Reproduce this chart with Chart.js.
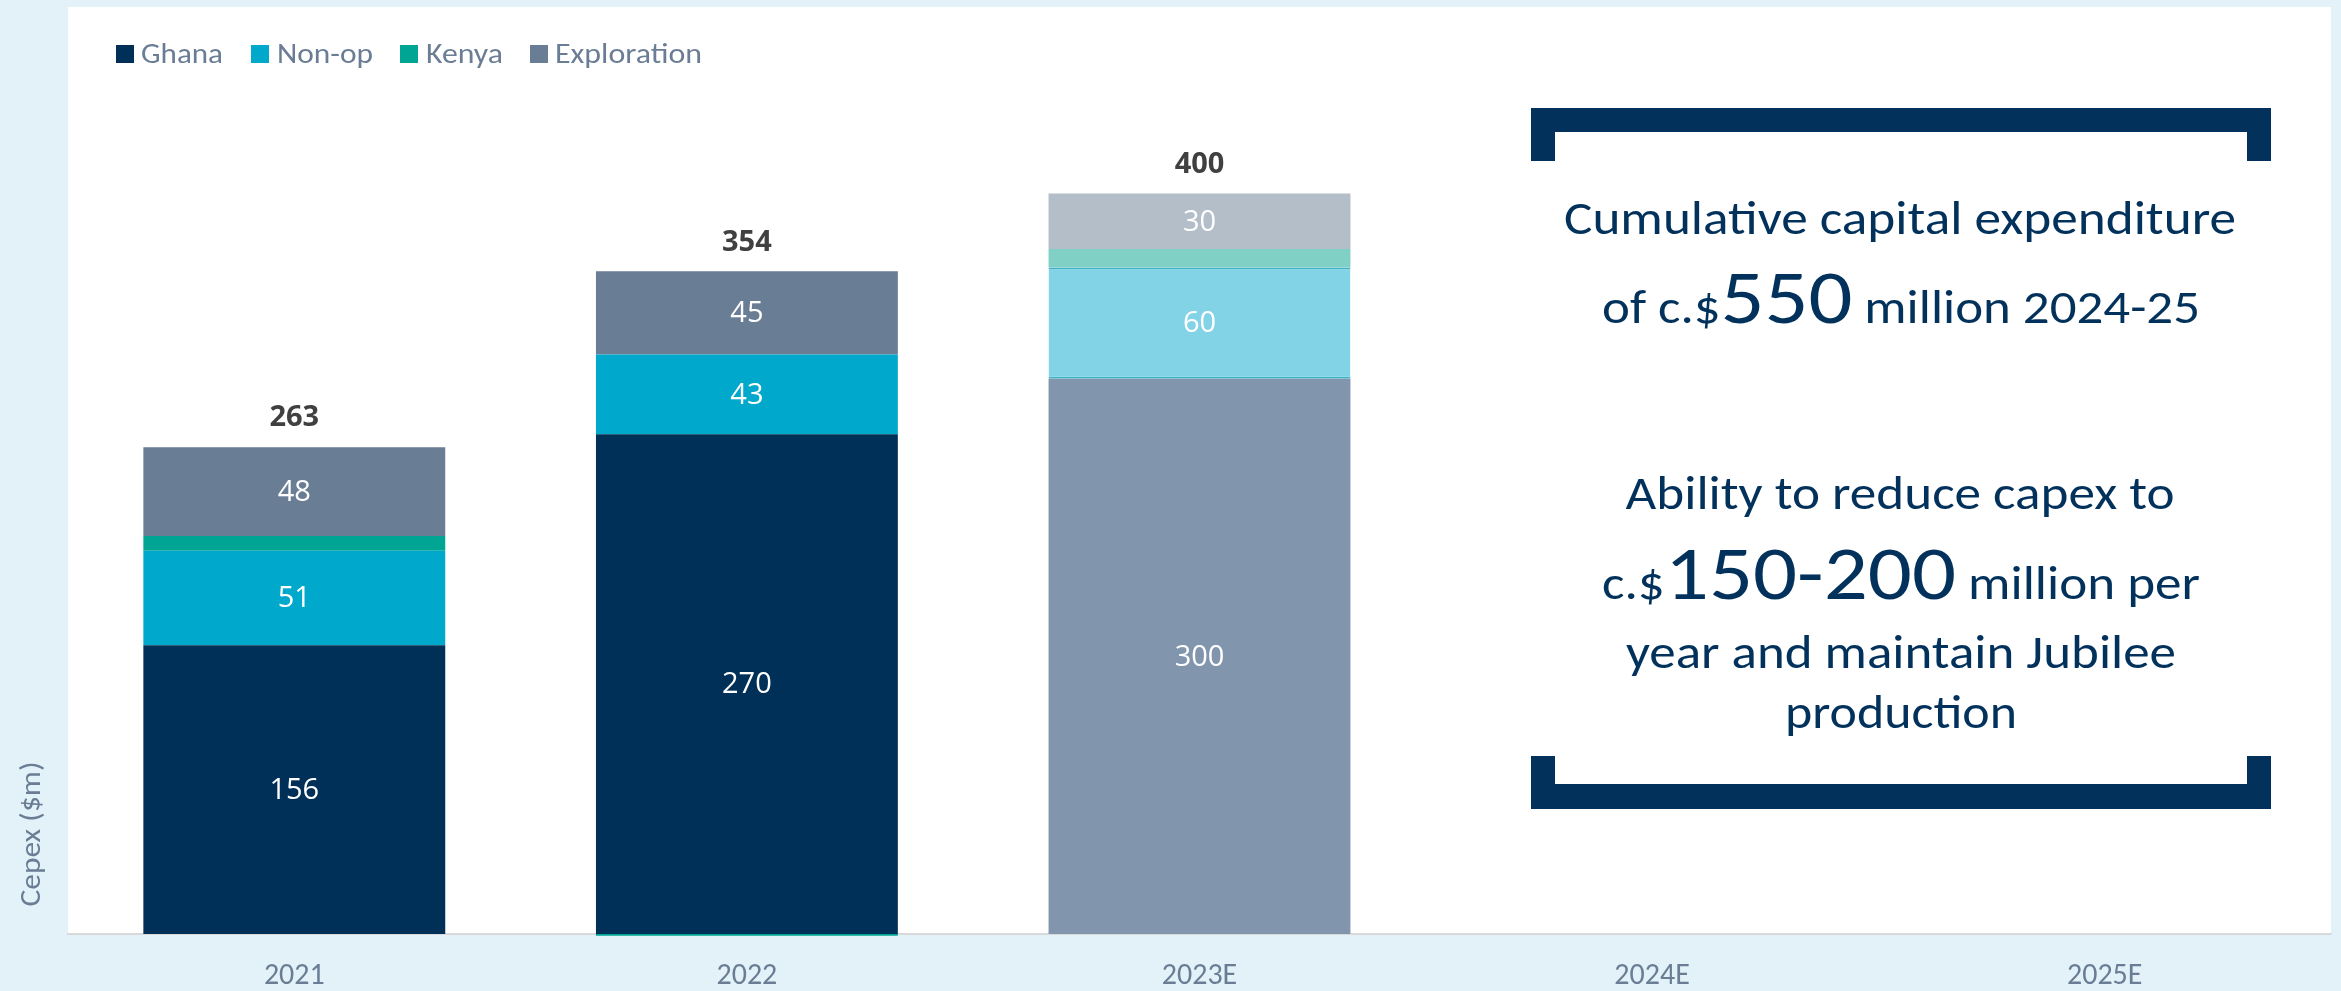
<!DOCTYPE html>
<html>
<head>
<meta charset="utf-8">
<script src="https://cdn.jsdelivr.net/npm/chart.js@4.4.1/dist/chart.umd.min.js"></script>
<style>
  html, body { margin: 0; padding: 0; background: #e3f2f8; }
  #wrap { position: relative; width: 2341px; height: 991px; overflow: hidden; background: #e3f2f8; }
  #panel { position: absolute; left: 68px; top: 7px; width: 2263px; height: 927px; background: #ffffff; }
  #c { position: absolute; left: 0; top: 0; }
  #ov { position: absolute; left: 0; top: 0; pointer-events: none; }
  .nf { font-family: Carlito, 'Liberation Sans Narrow', 'Open Sans', sans-serif; }
</style>
</head>
<body>
<div id="wrap">
  <div id="panel"></div>
  <canvas id="c" width="2341" height="991"></canvas>
  <svg id="ov" width="2341" height="991" xmlns="http://www.w3.org/2000/svg">
    <!-- legend -->
    <g class="nf" font-size="29" fill="#6a7d95">
      <rect x="116" y="45" width="18" height="18" fill="#003057"/>
      <text x="141" y="63" textLength="82" lengthAdjust="spacingAndGlyphs">Ghana</text>
      <rect x="251" y="45" width="18" height="18" fill="#00a8cc"/>
      <text x="277" y="63" textLength="96" lengthAdjust="spacingAndGlyphs">Non-op</text>
      <rect x="400" y="45" width="18" height="18" fill="#00a693"/>
      <text x="426" y="63" textLength="77" lengthAdjust="spacingAndGlyphs">Kenya</text>
      <rect x="530" y="45" width="18" height="18" fill="#697d95"/>
      <text x="555" y="63" textLength="147" lengthAdjust="spacingAndGlyphs">Exploration</text>
    </g>
    <!-- y axis title -->
    <text class="nf" font-size="29" fill="#6a7d95" text-anchor="middle" transform="translate(40,834) rotate(-90)" textLength="145" lengthAdjust="spacingAndGlyphs">Cepex ($m)</text>
    <!-- brackets -->
    <path d="M1531 108 H2271 V161 H2247 V132 H1555 V161 H1531 Z" fill="#02325b"/>
    <path d="M1531 756 H1555 V784 H2247 V756 H2271 V809 H1531 Z" fill="#02325b"/>
    <!-- annotation text -->
    <g class="nf" fill="#02325b" font-size="47" text-anchor="middle">
      <text x="1900" y="234" textLength="672" lengthAdjust="spacingAndGlyphs">Cumulative capital expenditure</text>
      <text x="1901" y="323" textLength="598" lengthAdjust="spacingAndGlyphs">of c.$<tspan font-size="77">550</tspan> million 2024-25</text>
      <text x="1900" y="509" textLength="549" lengthAdjust="spacingAndGlyphs">Ability to reduce capex to</text>
      <text x="1901" y="599" textLength="598" lengthAdjust="spacingAndGlyphs">c.$<tspan font-size="77">150-200</tspan>  million per</text>
      <text x="1901" y="668" textLength="550" lengthAdjust="spacingAndGlyphs">year and maintain Jubilee</text>
      <text x="1901" y="728" textLength="232" lengthAdjust="spacingAndGlyphs">production</text>
    </g>
  </svg>
</div>
<script>
// ---- data ----
const categories = ['2021', '2022', '2023E', '2024E', '2025E'];
const ghana = [156, 270, 300, null, null];
const nonOp = [51, 43, 60, null, null];
const kenya = [8, -1, 10, null, null];
const exploration = [48, 45, 30, null, null];
const totals = [263, 354, 400, null, null];
const seriesNames = ['Ghana', 'Non-op', 'Kenya', 'Exploration'];

// ---- styles ----
const NARROW = "Carlito, 'Liberation Sans Narrow', 'Open Sans', sans-serif";
const colGhana = ['#003057', '#003057', '#8196ad', '#003057', '#003057'];
const colNonOp = ['#00a8cc', '#00a8cc', '#83d3e6', '#00a8cc', '#00a8cc'];
const colKenya = ['#00a693', '#00a693', '#80d0c6', '#00a693', '#00a693'];
const colExpl = ['#697d95', '#697d95', '#b4bec9', '#697d95', '#697d95'];

const labelPlugin = {
  id: 'segLabels',
  afterDatasetsDraw(chart) {
    const ctx = chart.ctx;
    ctx.save();
    ctx.textAlign = 'center';
    ctx.textBaseline = 'middle';
    ctx.fillStyle = '#ffffff';
    ctx.font = "29px 'Open Sans', sans-serif";
    chart.data.datasets.forEach((ds, di) => {
      if (ds.label === 'Kenya') return;
      const meta = chart.getDatasetMeta(di);
      meta.data.forEach((el, i) => {
        const v = ds.data[i];
        if (v === null || v === undefined) return;
        const p = el.getProps(['x', 'y', 'base'], true);
        ctx.fillText(String(v), p.x, (p.y + p.base) / 2 + 1);
      });
    });
    // totals above the stacks
    ctx.font = "bold 29px 'Open Sans', sans-serif";
    ctx.fillStyle = '#404040';
    const top = chart.getDatasetMeta(3);
    totals.forEach((t, i) => {
      if (t === null) return;
      const p = top.data[i].getProps(['x', 'y'], true);
      ctx.fillText(String(t), p.x, p.y - 29);
    });
    ctx.restore();
  }
};

new Chart(document.getElementById('c'), {
  type: 'bar',
  data: {
    labels: categories,
    datasets: [
      { label: seriesNames[0], data: ghana, backgroundColor: colGhana },
      { label: seriesNames[1], data: nonOp, backgroundColor: colNonOp,
        borderColor: '#3fb1c9',
        borderWidth: (c) => c.dataIndex === 2 ? { top: 2, bottom: 2, left: 0, right: 0 } : 0,
        borderSkipped: false },
      { label: seriesNames[2], data: kenya, backgroundColor: colKenya, clip: false },
      { label: seriesNames[3], data: exploration, backgroundColor: colExpl }
    ]
  },
  options: {
    responsive: false,
    animation: false,
    events: [],
    layout: { padding: { left: 68, right: 10, top: 101, bottom: 0 } },
    datasets: { bar: { categoryPercentage: 1.0, barPercentage: 0.667 } },
    plugins: { legend: { display: false }, tooltip: { enabled: false }, title: { display: false } },
    scales: {
      x: {
        stacked: true,
        grid: { display: false, drawTicks: false },
        border: { display: true, color: '#d9d9d9', width: 2 },
        ticks: { color: '#6a7d95', font: { family: NARROW, size: 30 }, padding: 24 },
        afterFit(scale) { scale.height = 57; }
      },
      y: {
        stacked: true,
        display: false,
        min: 0,
        max: 450
      }
    }
  },
  plugins: [labelPlugin]
});
</script>
</body>
</html>
